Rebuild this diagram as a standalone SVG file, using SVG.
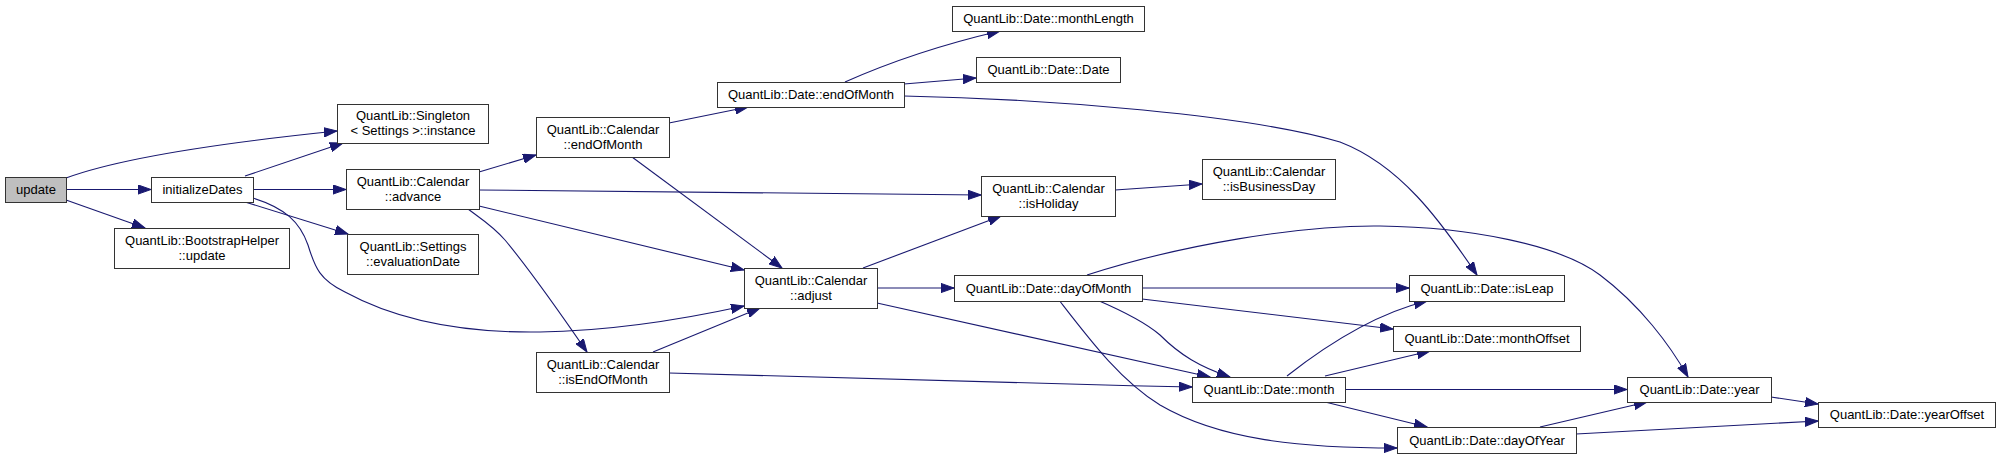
<svg xmlns="http://www.w3.org/2000/svg" width="2000" height="459" viewBox="0 0 2000 459">
<defs>
<style>
.n rect{fill:#fff;stroke:#333;stroke-width:1}
.n.root rect{fill:#bfbfbf}
.n text{font-family:"Liberation Sans",Arial,sans-serif;font-size:13px;fill:#000;text-anchor:middle}
.e path{fill:none;stroke:#191970;stroke-width:1.1;marker-end:url(#ah)}
</style>
<marker id="ah" markerWidth="14" markerHeight="10" refX="13" refY="5" orient="auto" markerUnits="userSpaceOnUse">
<path d="M0,0.4 L13,5 L0,9.6 z" fill="#191970" stroke="#191970" stroke-width="1"/>
</marker>
</defs>
<rect x="0" y="0" width="2000" height="459" fill="#fff"/>
<g id="connectors" class="e">
<path d="M66,178 C120,158 220,143 337,131"/>
<path d="M66,189.5 L151,189.5"/>
<path d="M66,200 L145,228"/>
<path d="M245,176 L343,143"/>
<path d="M253,189.5 L346,189.5"/>
<path d="M245,202 L348,234"/>
<path d="M253,198 C285,208 300,222 308,245 C315,268 320,280 345,292 C400,322 470,333 540,332 C610,331 680,320 744,306"/>
<path d="M479,172 L536,155"/>
<path d="M479,190 L981,195"/>
<path d="M479,206 L744,270"/>
<path d="M468,209 C480,218 493,226 505,240 C530,270 565,320 587,352"/>
<path d="M669,123 L748,107"/>
<path d="M632,157 L782,268"/>
<path d="M845,82 C890,62 940,45 1000,31"/>
<path d="M904,84 L976,78"/>
<path d="M904,96 C1050,99 1250,115 1340,142 C1400,165 1440,220 1477,275"/>
<path d="M1115,190 L1202,184"/>
<path d="M863,268 L1001,216"/>
<path d="M877,288 L954,288"/>
<path d="M877,303 L1210,377"/>
<path d="M653,352 L760,308"/>
<path d="M669,373 C800,378 1000,383 1192,387"/>
<path d="M1087,275 C1180,245 1300,225 1380,226 C1470,227 1560,245 1600,275 C1640,305 1670,345 1688,377"/>
<path d="M1142,288 L1409,288"/>
<path d="M1142,299 L1393,329"/>
<path d="M1097,300 C1125,312 1145,322 1160,335 C1180,355 1200,367 1230,377"/>
<path d="M1059,300 C1090,340 1120,380 1160,405 C1220,440 1300,448 1397,448"/>
<path d="M1287,376 C1320,350 1370,315 1427,301"/>
<path d="M1325,376 L1430,351"/>
<path d="M1345,389.5 L1627,389.5"/>
<path d="M1325,402 L1427,427"/>
<path d="M1540,427 L1647,402"/>
<path d="M1576,434 L1818,421"/>
<path d="M1771,397 L1818,404"/>
</g>
<g id="node-update" class="n root"><rect x="5.5" y="177.5" width="61" height="25"/><text x="36" y="194">update</text></g>
<g id="node-initializeDates" class="n"><rect x="151.5" y="177.5" width="102" height="25"/><text x="202.5" y="194">initializeDates</text></g>
<g id="node-singleton-instance" class="n"><rect x="337.5" y="104.5" width="151" height="39"/><text x="413" y="120">QuantLib::Singleton</text><text x="413" y="135">&lt; Settings &gt;::instance</text></g>
<g id="node-calendar-advance" class="n"><rect x="346.5" y="169.5" width="133" height="40"/><text x="413" y="185.5">QuantLib::Calendar</text><text x="413" y="200.5">::advance</text></g>
<g id="node-bootstraphelper-update" class="n"><rect x="114.5" y="228.5" width="175" height="40"/><text x="202" y="244.5">QuantLib::BootstrapHelper</text><text x="202" y="259.5">::update</text></g>
<g id="node-settings-evaluationDate" class="n"><rect x="347.5" y="234.5" width="131" height="40"/><text x="413" y="250.5">QuantLib::Settings</text><text x="413" y="265.5">::evaluationDate</text></g>
<g id="node-calendar-endOfMonth" class="n"><rect x="536.5" y="117.5" width="133" height="40"/><text x="603" y="133.5">QuantLib::Calendar</text><text x="603" y="148.5">::endOfMonth</text></g>
<g id="node-date-endOfMonth" class="n"><rect x="717.5" y="82.5" width="187" height="25"/><text x="811" y="99">QuantLib::Date::endOfMonth</text></g>
<g id="node-date-monthLength" class="n"><rect x="952.5" y="6.5" width="192" height="25"/><text x="1048.5" y="23">QuantLib::Date::monthLength</text></g>
<g id="node-date-Date" class="n"><rect x="976.5" y="57.5" width="144" height="25"/><text x="1048.5" y="74">QuantLib::Date::Date</text></g>
<g id="node-calendar-isHoliday" class="n"><rect x="981.5" y="176.5" width="134" height="40"/><text x="1048.5" y="192.5">QuantLib::Calendar</text><text x="1048.5" y="207.5">::isHoliday</text></g>
<g id="node-calendar-isBusinessDay" class="n"><rect x="1202.5" y="159.5" width="133" height="40"/><text x="1269" y="175.5">QuantLib::Calendar</text><text x="1269" y="190.5">::isBusinessDay</text></g>
<g id="node-calendar-adjust" class="n"><rect x="744.5" y="268.5" width="133" height="40"/><text x="811" y="284.5">QuantLib::Calendar</text><text x="811" y="299.5">::adjust</text></g>
<g id="node-calendar-isEndOfMonth" class="n"><rect x="536.5" y="352.5" width="133" height="40"/><text x="603" y="368.5">QuantLib::Calendar</text><text x="603" y="383.5">::isEndOfMonth</text></g>
<g id="node-date-dayOfMonth" class="n"><rect x="954.5" y="275.5" width="188" height="26"/><text x="1048.5" y="293">QuantLib::Date::dayOfMonth</text></g>
<g id="node-date-isLeap" class="n"><rect x="1409.5" y="275.5" width="155" height="26"/><text x="1487" y="293">QuantLib::Date::isLeap</text></g>
<g id="node-date-monthOffset" class="n"><rect x="1393.5" y="326.5" width="187" height="25"/><text x="1487" y="343">QuantLib::Date::monthOffset</text></g>
<g id="node-date-month" class="n"><rect x="1192.5" y="377.5" width="153" height="25"/><text x="1269" y="394">QuantLib::Date::month</text></g>
<g id="node-date-year" class="n"><rect x="1627.5" y="377.5" width="144" height="25"/><text x="1699.5" y="394">QuantLib::Date::year</text></g>
<g id="node-date-yearOffset" class="n"><rect x="1818.5" y="402.5" width="177" height="25"/><text x="1907" y="419">QuantLib::Date::yearOffset</text></g>
<g id="node-date-dayOfYear" class="n"><rect x="1397.5" y="427.5" width="179" height="26"/><text x="1487" y="445">QuantLib::Date::dayOfYear</text></g>
</svg>
